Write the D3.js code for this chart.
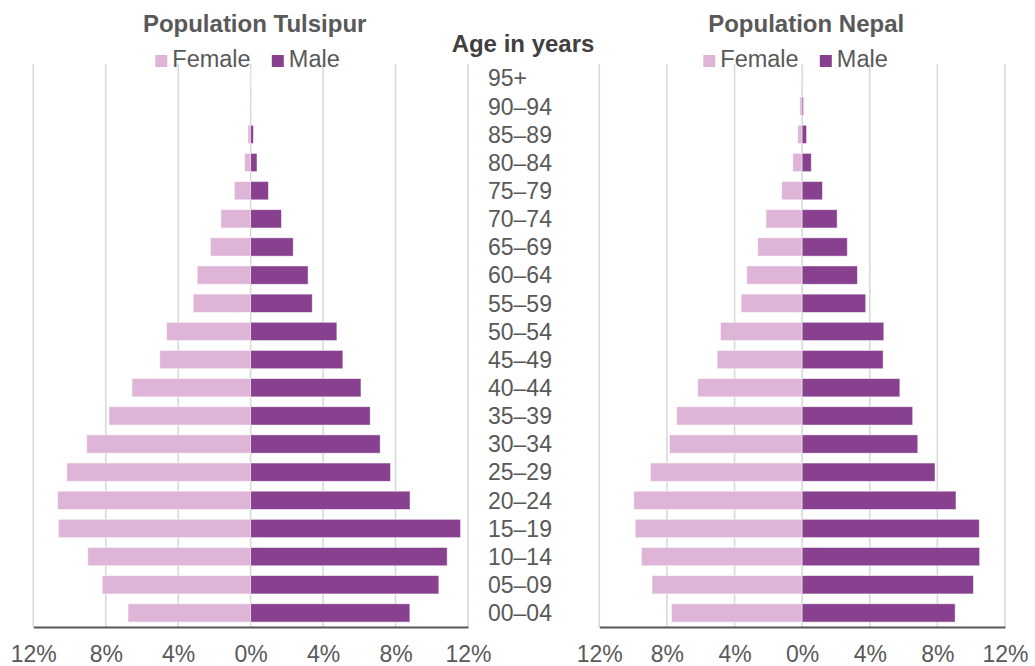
<!DOCTYPE html>
<html>
<head>
<meta charset="utf-8">
<script src="https://cdn.jsdelivr.net/npm/d3@7"></script>
<style>
	body { margin: 0; background: #fff; }
	svg text { font-family: "Liberation Sans", Arial, sans-serif; }
</style>
</head>
<body>
<div id="pyramid"></div>
<script>
// age groups, bottom to top
var ageGroups = [ "00–04", "05–09", "10–14", "15–19", "20–24", "25–29", "30–34", "35–39", "40–44",
	"45–49", "50–54", "55–59", "60–64", "65–69", "70–74", "75–79", "80–84", "85–89", "90–94", "95+" ];

// share of population in %
var tulsipurFemale = [ 6.77, 8.19, 8.99, 10.62, 10.66, 10.15, 9.05, 7.82, 6.55, 5.02, 4.64, 3.17, 2.95, 2.22, 1.64, 0.9, 0.33, 0.15, 0.03, 0.01 ];
var tulsipurMale = [ 8.79, 10.39, 10.85, 11.59, 8.8, 7.72, 7.15, 6.6, 6.09, 5.09, 4.76, 3.4, 3.17, 2.35, 1.7, 0.98, 0.35, 0.15, 0.02, 0.01 ];
var nepalFemale = [ 7.73, 8.88, 9.51, 9.88, 9.96, 8.98, 7.85, 7.42, 6.18, 5.03, 4.83, 3.61, 3.28, 2.63, 2.14, 1.21, 0.55, 0.26, 0.14, 0.05 ];
var nepalMale = [ 9.05, 10.13, 10.5, 10.48, 9.1, 7.86, 6.84, 6.54, 5.78, 4.79, 4.83, 3.76, 3.27, 2.67, 2.07, 1.2, 0.54, 0.26, 0.08, 0.03 ];

var tickValues = [ -12, -8, -4, 0, 4, 8, 12 ];
var legendItems = [ "Female", "Male" ];

var femaleColor = "#dfb5d7",
	maleColor = "#88418f",
	textColor = "#595959";

var width = 1035,
	height = 666,
	plotTop = 64,
	plotBottom = 627;

var svg = d3.select( "#pyramid" )
	.append( "svg" )
	.attr( "width", width )
	.attr( "height", height );

// shared band scale for age rows
var y = d3.scaleBand()
	.domain( ageGroups.slice().reverse() )
	.range( [ plotTop, plotBottom ] )
	.paddingInner( 0.35 )
	.paddingOuter( 0.175 );

function drawPanel ( title, female, male, left, right, legendX ) {
	var x = d3.scaleLinear()
		.domain( [ -12, 12 ] )
		.range( [ left, right ] );

	var g = svg.append( "g" );

	// vertical grid lines
	g.selectAll( ".grid" )
		.data( tickValues )
		.enter()
		.append( "line" )
		.attr( "x1", function( d ) { return x( d ); } )
		.attr( "x2", function( d ) { return x( d ); } )
		.attr( "y1", plotTop )
		.attr( "y2", plotBottom )
		.style( "stroke", "#d9d9d9" )
		.style( "stroke-width", 1.6 );

	var rows = ageGroups.map( function( a, i ) {
		return { age: a, f: female[ i ], m: male[ i ] };
	} );

	// female bars to the left
	g.selectAll( ".female" )
		.data( rows )
		.enter()
		.append( "rect" )
		.attr( "x", function( d ) { return x( -d.f ); } )
		.attr( "y", function( d ) { return y( d.age ); } )
		.attr( "width", function( d ) { return x( 0 ) - x( -d.f ); } )
		.attr( "height", y.bandwidth() )
		.style( "fill", femaleColor )
		.style( "stroke", "#fff" )
		.style( "stroke-opacity", 0.6 )
		.style( "stroke-width", 0.8 );

	// male bars to the right
	g.selectAll( ".male" )
		.data( rows )
		.enter()
		.append( "rect" )
		.attr( "x", x( 0 ) )
		.attr( "y", function( d ) { return y( d.age ); } )
		.attr( "width", function( d ) { return x( d.m ) - x( 0 ); } )
		.attr( "height", y.bandwidth() )
		.style( "fill", maleColor )
		.style( "stroke", "#fff" )
		.style( "stroke-opacity", 0.6 )
		.style( "stroke-width", 0.8 );

	// bottom axis
	var xAxis = d3.axisBottom( x )
		.tickValues( tickValues )
		.tickSize( 0 )
		.tickPadding( 19 )
		.tickFormat( function( d ) { return Math.abs( d ) + "%"; } );

	var ax = g.append( "g" )
		.attr( "transform", "translate(0," + plotBottom + ")" )
		.call( xAxis );
	ax.select( ".domain" )
		.style( "stroke", textColor )
		.style( "stroke-width", 2 );
	ax.selectAll( "text" )
		.style( "font-size", "23px" )
		.style( "fill", textColor );

	// panel title
	svg.append( "text" )
		.attr( "x", ( left + right ) / 2 + 4 )
		.attr( "y", 32 )
		.attr( "text-anchor", "middle" )
		.style( "font-size", "24px" )
		.style( "font-weight", "bold" )
		.style( "fill", textColor )
		.text( title );

	// legend
	var lg = svg.append( "g" )
		.attr( "transform", "translate(" + legendX + ",0)" );
	var offsets = [ 0, 116.5 ];
	legendItems.forEach( function( name, i ) {
		lg.append( "rect" )
			.attr( "x", offsets[ i ] )
			.attr( "y", 55 )
			.attr( "width", 12 )
			.attr( "height", 12 )
			.style( "fill", i === 0 ? femaleColor : maleColor );
		lg.append( "text" )
			.attr( "x", offsets[ i ] + 17 )
			.attr( "y", 67 )
			.style( "font-size", "23.5px" )
			.style( "fill", textColor )
			.text( name );
	} );
}

drawPanel( "Population Tulsipur", tulsipurFemale, tulsipurMale, 33.3, 468, 155.3 );
drawPanel( "Population Nepal", nepalFemale, nepalMale, 599.3, 1005, 703.3 );

// age labels between panels
svg.selectAll( ".age" )
	.data( ageGroups )
	.enter()
	.append( "text" )
	.attr( "x", 488 )
	.attr( "y", function( d ) { return y( d ) + y.bandwidth() / 2; } )
	.attr( "dy", "0.36em" )
	.style( "font-size", "23px" )
	.style( "fill", textColor )
	.text( function( d ) { return d; } );

svg.append( "text" )
	.attr( "x", 523 )
	.attr( "y", 52 )
	.attr( "text-anchor", "middle" )
	.style( "font-size", "24px" )
	.style( "font-weight", "bold" )
	.style( "fill", "#404040" )
	.text( "Age in years" );
</script>
</body>
</html>
